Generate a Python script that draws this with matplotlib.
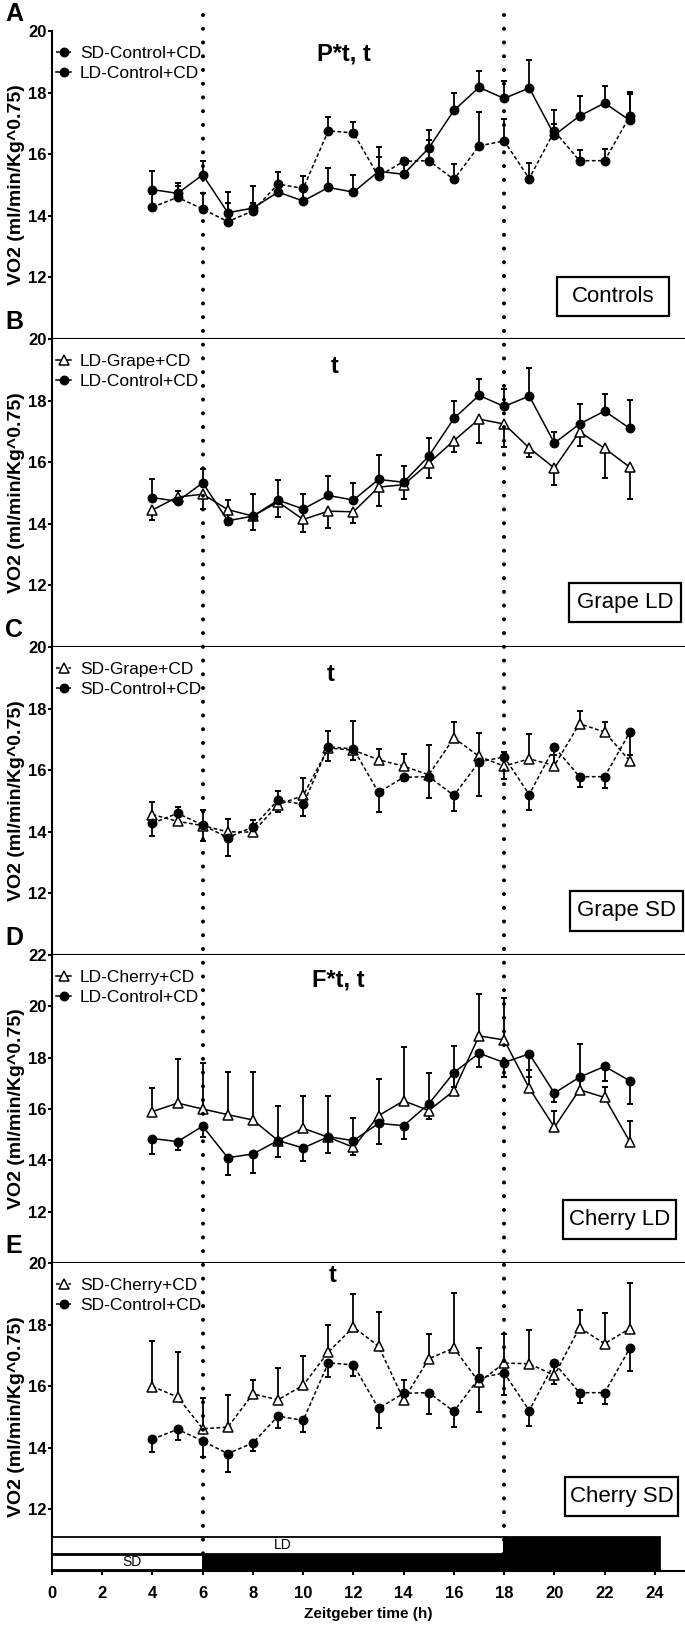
import matplotlib
matplotlib.use("Agg")
import matplotlib.pyplot as plt
from matplotlib.patches import Rectangle
from matplotlib.lines import Line2D
from matplotlib.transforms import blended_transform_factory

plt.rcParams['font.family'] = ['Liberation Sans', 'DejaVu Sans']

# Zeitgeber hours with a measurement
hours = list(range(4, 24))

ld_ctrl = [14.85, 14.73, 15.33, 14.10, 14.25, 14.77, 14.48, 14.92, 14.77, 15.44,
           15.35, 16.20, 17.42, 18.17, 17.81, 18.15, 16.62, 17.24, 17.66, 17.10]
ld_ctrl_sem = [0.62, 0.32, 0.44, 0.66, 0.73, 0.64, 0.50, 0.62, 0.55, 0.79,
               0.52, 0.60, 0.57, 0.54, 0.56, 0.92, 0.36, 0.66, 0.55, 0.92]

sd_ctrl = [14.28, 14.60, 14.22, 13.81, 14.16, 15.03, 14.89, 16.76, 16.69, 15.28,
           15.77, 15.79, 15.18, 16.27, 16.43, 15.21, 16.75, 15.79, 15.79, 17.23]
sd_ctrl_sem = [0.43, 0.36, 0.51, 0.60, 0.27, 0.38, 0.39, 0.46, 0.36, 0.64,
               0.12, 0.68, 0.49, 1.10, 0.70, 0.50, 0.67, 0.35, 0.37, 0.73]

ld_grape = [14.45, 14.87, 14.96, 14.46, 14.25, 14.71, 14.14, 14.41, 14.39, 15.19,
            15.27, 15.97, 16.70, 17.40, 17.24, 16.46, 15.81, 16.99, 16.45, 15.84]
ld_grape_sem = [0.32, 0.12, 0.47, 0.50, 0.45, 0.50, 0.40, 0.54, 0.36, 0.61,
                0.45, 0.48, 0.38, 0.78, 0.76, 0.30, 0.56, 0.47, 0.96, 1.04]

sd_grape = [14.56, 14.34, 14.20, 14.00, 13.99, 14.88, 15.18, 16.72, 16.65, 16.34,
            16.13, 15.85, 17.05, 16.45, 16.13, 16.37, 16.15, 17.51, 17.24, 16.30]
sd_grape_sem = [0.40, 0.48, 0.52, 0.40, 0.40, 0.43, 0.57, 0.54, 0.95, 0.36,
                0.40, 0.98, 0.52, 0.77, 0.46, 0.82, 0.35, 0.41, 0.33, 0.18]

ld_cherry = [15.90, 16.23, 16.00, 15.78, 15.57, 14.77, 15.25, 14.90, 14.51, 15.74,
             16.32, 15.94, 16.71, 18.85, 18.69, 16.81, 15.29, 16.75, 16.45, 14.73]
ld_cherry_sem = [0.92, 1.72, 1.78, 1.65, 1.86, 1.33, 1.24, 1.59, 1.13, 1.43,
                 2.08, 1.45, 1.73, 1.62, 1.65, 0.71, 0.65, 1.80, 0.42, 0.82]

sd_cherry = [15.99, 15.65, 14.62, 14.67, 15.75, 15.56, 16.03, 17.11, 17.92, 17.30,
             15.56, 16.89, 17.24, 16.13, 16.75, 16.73, 16.35, 17.90, 17.38, 17.87]
sd_cherry_sem = [1.48, 1.46, 1.00, 1.03, 0.44, 1.04, 0.94, 0.89, 1.06, 1.11,
                 0.65, 0.80, 1.77, 1.11, 0.96, 1.11, 0.30, 0.57, 1.00, 1.49]

# light schedule (h)
SD_LIGHTS_OFF = 6
LD_LIGHTS_OFF = 18
DAY_END = 24.2

W, H = 685, 1627
LEFT = 52
AX_H = 308
tops = [31, 339, 647, 955, 1263]

fig = plt.figure(figsize=(W / 100, H / 100), dpi=100)

SOLID = '-'
DASH = (0, (2.5, 1.6))

# label, stat text, stat x, stat y, box text, box cx, box cy, ymax, series
panels = [
    ('A', 'P*t, t', 11.63, 0.924, 'Controls', 0.886, 0.139, 20, [
        ('SD-Control+CD', sd_ctrl, sd_ctrl_sem, 'o', DASH, True),
        ('LD-Control+CD', ld_ctrl, ld_ctrl_sem, 'o', SOLID, True)]),
    ('B', 't', 11.24, 0.912, 'Grape LD', 0.905, 0.145, 20, [
        ('LD-Grape+CD', ld_grape, ld_grape_sem, '^', SOLID, False),
        ('LD-Control+CD', ld_ctrl, ld_ctrl_sem, 'o', SOLID, True)]),
    ('C', 't', 11.08, 0.912, 'Grape SD', 0.908, 0.143, 20, [
        ('SD-Grape+CD', sd_grape, sd_grape_sem, '^', DASH, True),
        ('SD-Control+CD', sd_ctrl, sd_ctrl_sem, 'o', DASH, False)]),
    ('D', 'F*t, t', 11.4, 0.919, 'Cherry LD', 0.896, 0.140, 22, [
        ('LD-Cherry+CD', ld_cherry, ld_cherry_sem, '^', SOLID, True),
        ('LD-Control+CD', ld_ctrl, ld_ctrl_sem, 'o', SOLID, False)]),
    ('E', 't', 11.16, 0.958, 'Cherry SD', 0.900, 0.241, 20, [
        ('SD-Cherry+CD', sd_cherry, sd_cherry_sem, '^', DASH, True),
        ('SD-Control+CD', sd_ctrl, sd_ctrl_sem, 'o', DASH, False)]),
]

axes = []
for i, (letter, stat, sx, sy, box, bx, by, ymax, series) in enumerate(panels):
    top = tops[i]
    ax = fig.add_axes([LEFT / W, 1 - (top + AX_H) / H, 1 - LEFT / W, AX_H / H])
    axes.append(ax)
    handles = []
    for name, vals, sem, mk, ls, up in series:
        ends = [v + e if up else v - e for v, e in zip(vals, sem)]
        ax.vlines(hours, vals, ends, color='k', lw=1.3, zorder=2)
        ax.plot(hours, ends, ls='none', marker='_', ms=5, mew=1.4, color='k', zorder=2)
        face = 'k' if mk == 'o' else 'white'
        ms = 6 if mk == 'o' else 6.5
        ln, = ax.plot(hours, vals, color='k', ls=ls, lw=1.1, marker=mk, ms=ms,
                      mfc=face, mec='k', mew=1.1, zorder=3, label=name)
        handles.append(ln)

    ax.set_xlim(0, 25.2)
    ax.set_ylim(10, ymax)
    ax.set_yticks(range(12, ymax + 1, 2))
    ax.tick_params(axis='y', length=3, width=1.4, pad=1, labelsize=12)
    for t in ax.get_yticklabels():
        t.set_fontweight('bold')
    for s in ('top', 'right'):
        ax.spines[s].set_visible(False)
    for s in ('left', 'bottom'):
        ax.spines[s].set_linewidth(1.5)
    ax.set_ylabel('VO2 (ml/min/Kg^0.75)', fontsize=14, fontweight='bold')
    ax.yaxis.set_label_coords(-0.042, 0.5)

    ax.legend(handles=handles, loc='upper left', bbox_to_anchor=(0.006, 0.952),
              frameon=False, fontsize=12.5, handlelength=0.9, handletextpad=0.5,
              labelspacing=0.28, borderpad=0, borderaxespad=0, numpoints=1)

    trans = blended_transform_factory(ax.transData, ax.transAxes)
    ax.text(sx, sy, stat, transform=trans, ha='center', va='center',
            fontsize=17, fontweight='bold')

    bw, bh = 0.178, 0.127
    ax.add_patch(Rectangle((bx - bw / 2, by - bh / 2), bw, bh, transform=ax.transAxes,
                           fill=False, lw=1.6, edgecolor='k', clip_on=False, zorder=4))
    ax.text(bx, by, box, transform=ax.transAxes, ha='center', va='center', fontsize=16)

    fig.text(14 / W, 1 - (top - 17) / H, letter, fontsize=18, fontweight='bold',
             ha='center', va='center')

    if letter != 'E':
        ax.tick_params(axis='x', bottom=False, labelbottom=False)

axE = axes[-1]
axE.set_xticks(range(0, 25, 2))
axE.tick_params(axis='x', length=3, width=1.4, pad=8, labelsize=12)
for t in axE.get_xticklabels():
    t.set_fontweight('bold')
axE.set_xlabel('Zeitgeber time (h)', fontsize=11, fontweight='bold', labelpad=4)

# light/dark bars
axE.add_patch(Rectangle((0, 10.55), LD_LIGHTS_OFF, 0.57, facecolor='white', edgecolor='k', lw=1.3, zorder=5))
axE.add_patch(Rectangle((LD_LIGHTS_OFF, 10.55), DAY_END - LD_LIGHTS_OFF, 0.57, facecolor='k', edgecolor='k', lw=1.3, zorder=5))
axE.add_patch(Rectangle((0, 10.02), SD_LIGHTS_OFF, 0.51, facecolor='white', edgecolor='k', lw=1.3, zorder=5))
axE.add_patch(Rectangle((SD_LIGHTS_OFF, 10.02), DAY_END - SD_LIGHTS_OFF, 0.51, facecolor='k', edgecolor='k', lw=1.3, zorder=5))
axE.text(9.2, 10.83, 'LD', ha='center', va='center', fontsize=10, zorder=6)
axE.text(3.2, 10.28, 'SD', ha='center', va='center', fontsize=10, zorder=6)

# dotted lights-off markers spanning all panels
vt = blended_transform_factory(axE.transData, fig.transFigure)
for xoff in (SD_LIGHTS_OFF, LD_LIGHTS_OFF):
    fig.add_artist(Line2D([xoff, xoff], [1 - 15 / H, 1 - 1567 / H], transform=vt,
                          color='k', lw=2.9, ls=(0, (0.01, 3.4)),
                          dash_capstyle='round', zorder=10))

fig.savefig('out.png', dpi=100)
